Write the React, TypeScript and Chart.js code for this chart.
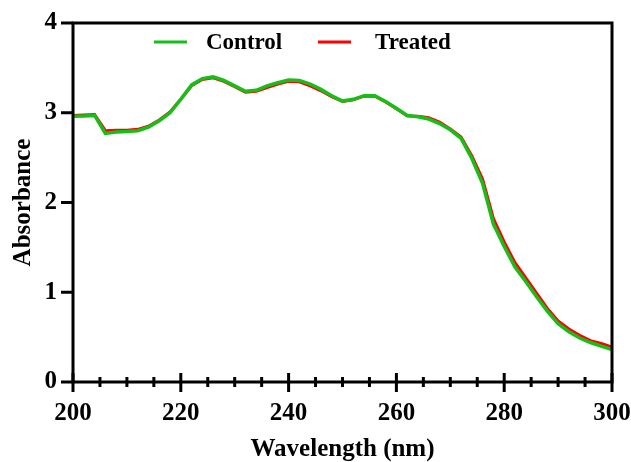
import React, { useEffect, useRef } from "react";
import { Chart, registerables } from "chart.js";

Chart.register(...registerables);

// ---- data ----
const wavelengths = [
  200, 202, 204, 206, 208, 210, 212, 214, 216, 218,
  220, 222, 224, 226, 228, 230, 232, 234, 236, 238,
  240, 242, 244, 246, 248, 250, 252, 254, 256, 258,
  260, 262, 264, 266, 268, 270, 272, 274, 276, 278,
  280, 282, 284, 286, 288, 290, 292, 294, 296, 298, 300,
];
const controlAbs = [
  2.96, 2.965, 2.97, 2.77, 2.785, 2.79, 2.8, 2.84, 2.91, 3.0,
  3.15, 3.31, 3.38, 3.4, 3.36, 3.3, 3.24, 3.25, 3.3, 3.335,
  3.365, 3.36, 3.32, 3.26, 3.19, 3.13, 3.15, 3.19, 3.19, 3.125,
  3.05, 2.97, 2.955, 2.93, 2.88, 2.81, 2.715, 2.49, 2.21, 1.76,
  1.51, 1.28, 1.12, 0.95, 0.79, 0.65, 0.56, 0.49, 0.44, 0.4, 0.36,
];
const treatedAbs = [
  2.97, 2.975, 2.98, 2.8, 2.805, 2.805, 2.815, 2.85, 2.92, 3.01,
  3.15, 3.3, 3.37, 3.39, 3.35, 3.29, 3.23, 3.24, 3.28, 3.32,
  3.35, 3.345, 3.3, 3.245, 3.18, 3.125, 3.145, 3.185, 3.185, 3.12,
  3.045, 2.965, 2.96, 2.945, 2.895, 2.82, 2.73, 2.52, 2.26, 1.82,
  1.56, 1.33, 1.16, 0.99, 0.82, 0.68, 0.59, 0.52, 0.46, 0.43, 0.39,
];
const seriesNames = ["Control", "Treated"];
const xTickLabels = [200, 220, 240, 260, 280, 300];
const yTickLabels = [0, 1, 2, 3, 4];

const GREEN = "rgb(24,190,24)";
const RED = "rgb(255,0,0)";
const FONT = "'Liberation Serif', 'Times New Roman', serif";

const framePlugin = {
  id: "frameTicks",
  afterDraw(chart: any) {
    const { ctx, chartArea, scales } = chart;
    const { left, right, top, bottom } = chartArea;
    const xs = scales.x;
    const ys = scales.y;
    ctx.save();
    ctx.strokeStyle = "#000";
    ctx.lineCap = "butt";
    ctx.lineWidth = 3;
    ctx.strokeRect(left, top, right - left, bottom - top);
    // x ticks (crossing the axis)
    xs.ticks.forEach((t: any) => {
      const px = xs.getPixelForValue(t.value);
      const major = xTickLabels.includes(t.value);
      const up = major ? 9 : 5;
      const down = major ? 10 : 5;
      ctx.lineWidth = 3;
      ctx.beginPath();
      ctx.moveTo(px, bottom - up);
      ctx.lineTo(px, bottom + down);
      ctx.stroke();
    });
    // y ticks (outward)
    ys.ticks.forEach((t: any) => {
      const py = ys.getPixelForValue(t.value);
      ctx.lineWidth = 3;
      ctx.beginPath();
      ctx.moveTo(left - 12, py);
      ctx.lineTo(left, py);
      ctx.stroke();
    });
    // legend inside the plot
    const ds = chart.data.datasets;
    const itemX = [left + 81, left + 245];
    const textGap = [52, 57];
    const ly = top + 19;
    ctx.font = `bold 23px ${FONT}`;
    ctx.textBaseline = "middle";
    ctx.textAlign = "left";
    ds.forEach((d: any, i: number) => {
      ctx.strokeStyle = d.borderColor;
      ctx.lineWidth = 3;
      ctx.beginPath();
      ctx.moveTo(itemX[i], ly);
      ctx.lineTo(itemX[i] + 33, ly);
      ctx.stroke();
      ctx.fillStyle = "#000";
      ctx.fillText(d.label, itemX[i] + textGap[i], ly + 1);
    });
    ctx.restore();
  },
};

export default function App() {
  const ref = useRef<HTMLCanvasElement>(null);
  useEffect(() => {
    if (!ref.current) return;
    const chart = new Chart(ref.current, {
      type: "line",
      data: {
        datasets: [
          {
            label: seriesNames[0],
            data: wavelengths.map((w, i) => ({ x: w, y: controlAbs[i] })),
            borderColor: GREEN,
            backgroundColor: GREEN,
            borderWidth: 3.5,
            pointRadius: 0,
            tension: 0,
          },
          {
            label: seriesNames[1],
            data: wavelengths.map((w, i) => ({ x: w, y: treatedAbs[i] })),
            borderColor: RED,
            backgroundColor: RED,
            borderWidth: 3,
            pointRadius: 0,
            tension: 0,
          },
        ],
      },
      options: {
        responsive: false,
        animation: false,
        layout: { padding: { top: 23, right: 19, left: 0, bottom: 0 } },
        plugins: { legend: { display: false }, tooltip: { enabled: false } },
        scales: {
          x: {
            type: "linear",
            min: 200,
            max: 300,
            grid: { display: false, drawTicks: true, tickLength: 17 },
            border: { display: false },
            ticks: {
              stepSize: 5,
              autoSkip: false,
              maxRotation: 0,
              padding: 0,
              color: "#000",
              font: { family: FONT, weight: "bold", size: 25 },
              callback: (v: any) => (xTickLabels.includes(v) ? String(v) : ""),
            },
            title: {
              display: true,
              text: "Wavelength (nm)",
              color: "#000",
              font: { family: FONT, weight: "bold", size: 25 },
              padding: { top: 0, bottom: -3 },
            },
            afterFit: (s: any) => {
              s.height = 80;
            },
          },
          y: {
            min: 0,
            max: 4,
            grid: { display: false, drawTicks: true, tickLength: 16 },
            border: { display: false },
            ticks: {
              stepSize: 1,
              padding: 0,
              color: "#000",
              font: { family: FONT, weight: "bold", size: 25 },
              callback: (v: any) => (yTickLabels.includes(v) ? String(v) : ""),
            },
            title: {
              display: true,
              text: "Absorbance",
              color: "#000",
              font: { family: FONT, weight: "bold", size: 25 },
              padding: { top: 9, bottom: 0 },
            },
            afterFit: (s: any) => {
              s.width = 73;
            },
          },
        },
      },
      plugins: [framePlugin],
    });
    return () => chart.destroy();
  }, []);
  return (
    <div style={{ position: "fixed", left: 0, top: 0, width: 631, height: 462, background: "#fff" }}>
      <canvas ref={ref} width={631} height={462} style={{ display: "block" }} />
    </div>
  );
}
